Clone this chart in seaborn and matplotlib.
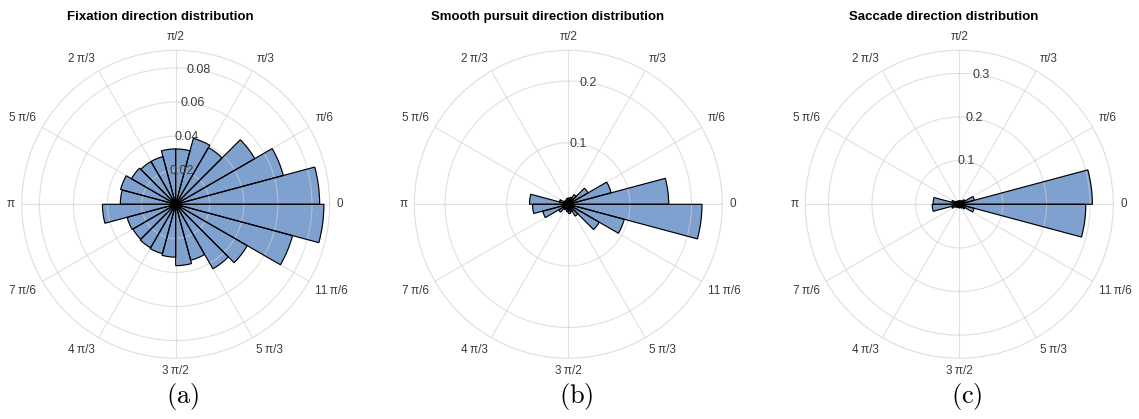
import numpy as np
import pandas as pd
import matplotlib
matplotlib.use("Agg")
import matplotlib.pyplot as plt
import seaborn as sns

# ---------------- data ----------------
bin_start_deg = [0, 15, 30, 45, 60, 75, 90, 105, 120, 135, 150, 165,
                 180, 195, 210, 225, 240, 255, 270, 285, 300, 315, 330, 345]

fixation = [0.0845, 0.0654, 0.0536, 0.0385, 0.0400, 0.0325,
            0.0325, 0.0290, 0.0290, 0.0300, 0.0335, 0.0325,
            0.0430, 0.0295, 0.0290, 0.0295, 0.0300, 0.0310,
            0.0360, 0.0340, 0.0437, 0.0485, 0.0710, 0.0870]

pursuit = [0.163, 0.072, 0.037, 0.018, 0.012, 0.010,
           0.010, 0.008, 0.007, 0.008, 0.015, 0.063,
           0.058, 0.043, 0.018, 0.010, 0.008, 0.012,
           0.015, 0.013, 0.022, 0.058, 0.094, 0.217]

saccade = [0.305, 0.036, 0.015, 0.010, 0.008, 0.008,
           0.008, 0.008, 0.008, 0.010, 0.018, 0.060,
           0.062, 0.018, 0.010, 0.008, 0.008, 0.008,
           0.008, 0.008, 0.010, 0.015, 0.035, 0.290]

titles = ["Fixation direction distribution",
          "Smooth pursuit direction distribution",
          "Saccade direction distribution"]
captions = ["(a)", "(b)", "(c)"]
theta_tick_deg = [0, 30, 60, 90, 120, 150, 180, 210, 240, 270, 300, 330]
theta_tick_labels = ["0", "\u03c0/6", "\u03c0/3", "\u03c0/2", "2\u2009\u03c0/3", "5\u2009\u03c0/6",
                     "\u03c0", "7\u2009\u03c0/6", "4\u2009\u03c0/3", "3\u2009\u03c0/2", "5\u2009\u03c0/3",
                     "11\u2009\u03c0/6"]
r_ticks = [[0.02, 0.04, 0.06, 0.08], [0.1, 0.2], [0.1, 0.2, 0.3]]
r_max = [0.0904, 0.25, 0.353]

# ---------------- style ----------------
sns.set_theme(style="white")
plt.rcParams['font.family'] = ['Liberation Sans', 'DejaVu Sans']
plt.rcParams['mathtext.fontset'] = 'cm'

W, H = 1139, 419
fig = plt.figure(figsize=(W / 100, H / 100), dpi=100)

centers_x = [175.7, 568.3, 959.3]
center_y = 204.3
R = 154
title_x = [160, 548, 944]
caption_x = [183, 576, 967]

bar_color = "#7fa1cf"
text_color = "#3c3c3c"
gap_pt = 5.0

for i, vals in enumerate([fixation, pursuit, saccade]):
    cx = centers_x[i]
    ax = fig.add_axes([(cx - R) / W, (H - center_y - R) / H, 2 * R / W, 2 * R / H],
                      projection='polar')
    df = pd.DataFrame({
        "theta": np.deg2rad(np.array(bin_start_deg, dtype=float) + 7.5),
        "frac": vals,
    })
    # filled bars (below the grid)
    sns.barplot(data=df, x="theta", y="frac", native_scale=True, width=1.0,
                color=bar_color, saturation=1, linewidth=0,
                errorbar=None, ax=ax)
    n_fill = len(ax.patches)
    # bar outlines (above the grid)
    sns.barplot(data=df, x="theta", y="frac", native_scale=True, width=1.0,
                color="black", saturation=1, fill=False, linewidth=0.85,
                errorbar=None, ax=ax)
    for p in ax.patches[n_fill:]:
        p.set_zorder(3)
        p.set_edgecolor("black")
    ax.set_xlabel("")
    ax.set_ylabel("")
    ax.set_ylim(0, r_max[i])
    ax.set_yticks(r_ticks[i])
    ax.set_yticklabels([])
    for t in r_ticks[i]:
        ax.text(np.deg2rad(80.5), t, f"{t:g}", ha="center", va="center",
                fontsize=9, color=text_color, zorder=5)
    ax.set_xticks(np.deg2rad(theta_tick_deg))
    ax.set_xticklabels([])
    for deg, lab in zip(theta_tick_deg, theta_tick_labels):
        c, s = np.cos(np.deg2rad(deg)), np.sin(np.deg2rad(deg))
        ha = "left" if c > 0.1 else ("right" if c < -0.1 else "center")
        va = "bottom" if s > 0.1 else ("top" if s < -0.1 else "center")
        ax.annotate(lab, xy=(np.deg2rad(deg), r_max[i]), xycoords="data",
                    xytext=(gap_pt * c, gap_pt * s), textcoords="offset points",
                    ha=ha, va=va, fontsize=8.5, color=text_color,
                    annotation_clip=False)
    ax.set_axisbelow(False)
    ax.grid(True, color="#d0d0d0", alpha=0.65, linewidth=0.8)
    ax.spines['polar'].set_color("#dedede")
    ax.spines['polar'].set_linewidth(0.8)
    ax.tick_params(axis='x', length=0)

    fig.text(title_x[i] / W, 1 - 17 / H, titles[i], ha="center", va="center",
             fontweight="bold", fontsize=9.5, color="black")
    fig.text(caption_x[i] / W, 1 - 396 / H, r"$\mathrm{" + captions[i] + "}$",
             ha="center", va="center", fontsize=19, color="black")

fig.savefig("out.png", dpi=100)
